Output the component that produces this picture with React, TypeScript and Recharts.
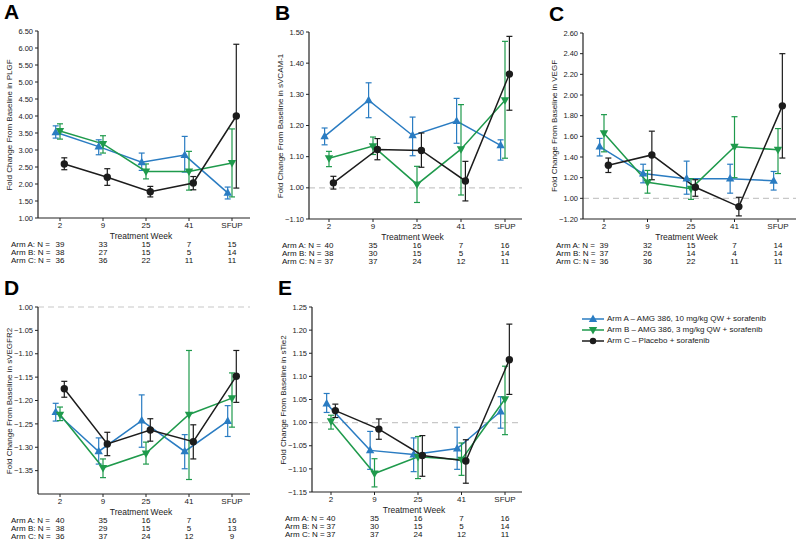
import React from 'react';
import { LineChart, Line, XAxis, YAxis, ErrorBar, ReferenceLine } from 'recharts';

const weeks = ['2', '9', '25', '41', 'SFUP'];
const armLabels = [
  'Arm A \u2013 AMG 386, 10 mg/kg QW + sorafenib',
  'Arm B \u2013 AMG 386, 3 mg/kg QW + sorafenib',
  'Arm C \u2013 Placebo + sorafenib',
];

// fold change values as printed on the axes (-1.10 means a 1.10-fold decrease)
// A: PLGF
const plgfArmA = [3.52, 3.1, 2.64, 2.85, 1.74];
const plgfArmACI = [[3.35, 3.71], [2.86, 3.3], [2.4, 2.91], [2.35, 3.4], [1.56, 1.91]];
const plgfArmB = [3.56, 3.18, 2.37, 2.37, 2.62];
const plgfArmBCI = [[3.32, 3.77], [2.91, 3.42], [2.15, 2.59], [1.82, 2.96], [1.62, 3.62]];
const plgfArmC = [2.59, 2.2, 1.77, 2.03, 4.0];
const plgfArmCCI = [[2.42, 2.77], [1.96, 2.45], [1.62, 1.93], [1.83, 2.22], [1.88, 6.11]];
const plgfN = [[39, 33, 15, 7, 15], [38, 27, 15, 5, 14], [36, 36, 22, 11, 11]];

// B: sVCAM-1
const vcamArmA = [1.165, 1.281, 1.168, 1.214, 1.136];
const vcamArmACI = [[1.138, 1.192], [1.225, 1.337], [1.103, 1.227], [1.143, 1.287], [1.089, 1.154]];
const vcamArmB = [1.095, 1.134, 1.011, 1.124, 1.281];
const vcamArmBCI = [[1.068, 1.117], [1.107, 1.163], [-1.047, 1.069], [-1.023, 1.267], [1.095, 1.47]];
const vcamArmC = [1.016, 1.123, 1.12, 1.022, 1.365];
const vcamArmCCI = [[-1.004, 1.037], [1.09, 1.158], [1.066, 1.176], [-1.042, 1.085], [1.249, 1.486]];
const vcamN = [[40, 35, 16, 7, 16], [38, 30, 15, 5, 14], [37, 37, 24, 12, 11]];

// C: VEGF
const vegfArmA = [1.5, 1.24, 1.19, 1.19, 1.17];
const vegfArmACI = [[1.41, 1.58], [1.15, 1.33], [1.04, 1.36], [1.05, 1.33], [1.08, 1.26]];
const vegfArmB = [1.63, 1.155, 1.094, 1.5, 1.47];
const vegfArmBCI = [[1.45, 1.81], [1.05, 1.27], [-1.01, 1.19], [1.2, 1.79], [1.24, 1.675]];
const vegfArmC = [1.32, 1.42, 1.107, -1.08, 1.895];
const vegfArmCCI = [[1.25, 1.39], [1.18, 1.65], [1.02, 1.18], [-1.17, 1.01], [1.39, 2.4]];
const vegfN = [[39, 32, 15, 7, 14], [37, 26, 14, 4, 14], [36, 36, 22, 11, 11]];

// D: sVEGFR2
const vegfr2ArmA = [-1.225, -1.309, -1.243, -1.309, -1.244];
const vegfr2ArmACI = [[-1.244, -1.206], [-1.336, -1.28], [-1.3, -1.188], [-1.346, -1.273], [-1.277, -1.211]];
const vegfr2ArmB = [-1.23, -1.344, -1.313, -1.23, -1.195];
const vegfr2ArmBCI = [[-1.243, -1.214], [-1.365, -1.325], [-1.336, -1.289], [-1.369, -1.093], [-1.257, -1.141]];
const vegfr2ArmC = [-1.175, -1.293, -1.263, -1.288, -1.148];
const vegfr2ArmCCI = [[-1.193, -1.159], [-1.318, -1.268], [-1.287, -1.239], [-1.325, -1.252], [-1.204, -1.093]];
const vegfr2N = [[40, 35, 16, 7, 16], [38, 29, 15, 5, 13], [36, 37, 24, 12, 9]];

// E: sTie2
const tie2ArmA = [1.041, -1.06, -1.069, -1.056, 1.024];
const tie2ArmACI = [[1.022, 1.063], [-1.101, -1.019], [-1.106, -1.033], [-1.101, -1.01], [-1.012, 1.056]];
const tie2ArmB = [1.003, -1.11, -1.074, -1.08, 1.051];
const tie2ArmBCI = [[-1.014, 1.016], [-1.139, -1.078], [-1.121, -1.03], [-1.114, -1.044], [-1.026, 1.122]];
const tie2ArmC = [1.026, -1.014, -1.071, -1.083, 1.136];
const tie2ArmCCI = [[1.011, 1.04], [-1.036, 1.008], [-1.116, -1.028], [-1.131, -1.037], [1.061, 1.213]];
const tie2N = [[40, 35, 16, 7, 16], [37, 30, 15, 5, 14], [37, 37, 24, 12, 11]];

const plgfTicks = [1.0, 1.5, 2.0, 2.5, 3.0, 3.5, 4.0, 4.5, 5.0, 5.5, 6.0, 6.5];
const vcamTicks = [-1.1, 1.0, 1.1, 1.2, 1.3, 1.4, 1.5];
const vegfTicks = [-1.2, 1.0, 1.2, 1.4, 1.6, 1.8, 2.0, 2.2, 2.4, 2.6];
const vegfr2Ticks = [-1.35, -1.3, -1.25, -1.2, -1.15, -1.1, -1.05, 1.0];
const tie2Ticks = [-1.15, -1.1, -1.05, 1.0, 1.05, 1.1, 1.15, 1.2, 1.25];

const BLUE = '#2a7cc2';
const GREEN = '#1f9a4c';
const BLACK = '#1c1c1c';
const FONT = '"Liberation Sans", Arial, Helvetica, sans-serif';
const arms = [
  { color: BLUE, shape: 'up', shift: -0.1 },
  { color: GREEN, shape: 'down', shift: 0 },
  { color: BLACK, shape: 'circle', shift: 0.1 },
];

const pos = (v: number) => (v < 0 ? 2 + v : v);
const foldLabel = (p: number) => (p < 0.9999 ? `\u2212${(2 - p).toFixed(2)}` : p.toFixed(2));

function toSeries(mean: number[], ci: number[][], shift: number) {
  return mean.map((m, i) => {
    const y = pos(m);
    return { x: i + shift, y, err: [y - pos(ci[i][0]), pos(ci[i][1]) - y] };
  });
}

function markerPath(shape: string, cx: number, cy: number) {
  if (shape === 'up') return `M${cx},${cy - 4.6}L${cx + 4.2},${cy + 2.9}L${cx - 4.2},${cy + 2.9}Z`;
  return `M${cx},${cy + 4.6}L${cx + 4.2},${cy - 2.9}L${cx - 4.2},${cy - 2.9}Z`;
}

const marker = (shape: string, color: string) => (props: any) => {
  const { cx, cy, index } = props;
  if (cx == null || cy == null) return <g key={index} />;
  if (shape === 'circle') return <circle key={index} cx={cx} cy={cy} r={3.7} fill={color} />;
  return <path key={index} d={markerPath(shape, cx, cy)} fill={color} />;
};

const abs = (left: number, top: number, extra: React.CSSProperties = {}): React.CSSProperties => ({
  position: 'absolute', left, top, fontFamily: FONT, whiteSpace: 'nowrap', lineHeight: 1, ...extra,
});

type PanelProps = {
  letter: string;
  label: string;
  left: number;
  top: number;
  right: number;
  bottom: number;
  tick0: number;
  step: number;
  yRange: number[];
  yTicks: number[];
  means: number[][];
  cis: number[][][];
  counts: number[][];
  refLine: boolean;
};

function Panel(p: PanelProps) {
  const boxLeft = p.left - 45;
  const boxTop = p.top - 10;
  const width = p.right - boxLeft + 8;
  const height = p.bottom - boxTop + 16;
  const xDomain = [(p.left - p.tick0) / p.step, 4 + (p.right - (p.tick0 + 4 * p.step)) / p.step];
  const series = arms.map((a, k) => toSeries(p.means[k], p.cis[k], a.shift));

  return (
    <>
      <div style={abs(p.left - 34, p.top - 30, { fontSize: 21, fontWeight: 'bold', color: '#000' })}>{p.letter}</div>
      <div style={abs(boxLeft, boxTop)}>
        <LineChart width={width} height={height} margin={{ top: 10, right: 8, left: 0, bottom: 0 }}>
          <XAxis
            type="number"
            dataKey="x"
            domain={xDomain}
            allowDataOverflow
            ticks={[0, 1, 2, 3, 4]}
            interval={0}
            tickFormatter={(v: number) => weeks[Math.round(v)]}
            height={16}
            tickSize={3}
            tickMargin={1}
            tick={{ fontSize: 8, fill: '#222', fontFamily: FONT }}
            axisLine={{ stroke: '#222', strokeWidth: 1.2 }}
            tickLine={{ stroke: '#222' }}
          />
          <YAxis
            type="number"
            domain={p.yRange.map(pos)}
            allowDataOverflow
            ticks={p.yTicks.map(pos)}
            interval={0}
            tickFormatter={foldLabel}
            width={45}
            tickSize={3}
            tick={{ fontSize: 7.5, fill: '#222', fontFamily: FONT }}
            axisLine={{ stroke: '#222', strokeWidth: 1.2 }}
            tickLine={{ stroke: '#222' }}
          />
          {p.refLine && <ReferenceLine y={1} stroke="#c8c8c8" strokeWidth={1.2} strokeDasharray="6 4" />}
          {arms.map((a, k) => (
            <Line
              key={k}
              data={series[k]}
              dataKey="y"
              type="linear"
              stroke={a.color}
              strokeWidth={1.5}
              dot={marker(a.shape, a.color)}
              activeDot={false}
              isAnimationActive={false}
            >
              <ErrorBar dataKey="err" direction="y" width={3} stroke={a.color} strokeWidth={1.2} isAnimationActive={false} />
            </Line>
          ))}
        </LineChart>
      </div>
      <div
        style={abs(p.left - 28, (p.top + p.bottom) / 2, {
          fontSize: 8,
          color: '#222',
          transform: 'translate(-50%, -50%) rotate(-90deg)',
        })}
      >
        {p.label}
      </div>
      <div style={abs((p.left + p.right) / 2 - 3, p.bottom + 14, { fontSize: 8.5, color: '#222', transform: 'translateX(-50%)' })}>
        Treatment Week
      </div>
      {p.counts.map((row, r) => (
        <React.Fragment key={r}>
          <div style={abs(p.left - 27, p.bottom + 23 + r * 8, { fontSize: 8, color: '#111' })}>
            {`Arm ${'ABC'[r]}:  N =`}
          </div>
          {row.map((n, i) => (
            <div
              key={i}
              style={abs(p.tick0 + i * p.step, p.bottom + 23 + r * 8, { fontSize: 8, color: '#111', transform: 'translateX(-50%)' })}
            >
              {n}
            </div>
          ))}
        </React.Fragment>
      ))}
    </>
  );
}

function Legend() {
  return (
    <>
      {armLabels.map((t, k) => {
        const y = 319 + k * 11;
        const a = arms[k];
        return (
          <React.Fragment key={k}>
            <svg style={{ position: 'absolute', left: 580, top: y - 6 }} width={26} height={12}>
              <line x1={2} y1={6} x2={24} y2={6} stroke={a.color} strokeWidth={1.5} />
              {a.shape === 'circle' ? (
                <circle cx={13} cy={6} r={3.2} fill={a.color} />
              ) : (
                <path d={markerPath(a.shape, 13, 6)} fill={a.color} />
              )}
            </svg>
            <div style={abs(607, y - 4, { fontSize: 8, color: '#222' })}>{t}</div>
          </React.Fragment>
        );
      })}
    </>
  );
}

export default function App() {
  return (
    <div style={{ position: 'absolute', left: 0, top: 0, width: 800, height: 545, background: '#fff', overflow: 'hidden' }}>
      <Panel
        letter="A"
        label="Fold Change From Baseline in PLGF"
        left={38}
        top={31}
        right={250}
        bottom={218}
        tick0={60}
        step={43}
        yRange={[1.0, 6.5]}
        yTicks={plgfTicks}
        means={[plgfArmA, plgfArmB, plgfArmC]}
        cis={[plgfArmACI, plgfArmBCI, plgfArmCCI]}
        counts={plgfN}
        refLine={false}
      />
      <Panel
        letter="B"
        label="Fold Change From Baseline in sVCAM-1"
        left={309}
        top={32}
        right={522}
        bottom={219}
        tick0={329}
        step={44}
        yRange={[-1.1, 1.5]}
        yTicks={vcamTicks}
        means={[vcamArmA, vcamArmB, vcamArmC]}
        cis={[vcamArmACI, vcamArmBCI, vcamArmCCI]}
        counts={vcamN}
        refLine
      />
      <Panel
        letter="C"
        label="Fold Change From Baseline in  VEGF"
        left={583}
        top={33}
        right={796}
        bottom={219}
        tick0={604}
        step={43.5}
        yRange={[-1.2, 2.6]}
        yTicks={vegfTicks}
        means={[vegfArmA, vegfArmB, vegfArmC]}
        cis={[vegfArmACI, vegfArmBCI, vegfArmCCI]}
        counts={vegfN}
        refLine
      />
      <Panel
        letter="D"
        label="Fold Change From Baseline in sVEGFR2"
        left={38}
        top={307}
        right={250}
        bottom={494}
        tick0={60}
        step={43}
        yRange={[-1.4, 1.0]}
        yTicks={vegfr2Ticks}
        means={[vegfr2ArmA, vegfr2ArmB, vegfr2ArmC]}
        cis={[vegfr2ArmACI, vegfr2ArmBCI, vegfr2ArmCCI]}
        counts={vegfr2N}
        refLine
      />
      <Panel
        letter="E"
        label="Fold Change From Baseline in sTie2"
        left={312}
        top={307}
        right={522}
        bottom={492}
        tick0={331}
        step={43.5}
        yRange={[-1.15, 1.25]}
        yTicks={tie2Ticks}
        means={[tie2ArmA, tie2ArmB, tie2ArmC]}
        cis={[tie2ArmACI, tie2ArmBCI, tie2ArmCCI]}
        counts={tie2N}
        refLine
      />
      <Legend />
    </div>
  );
}
